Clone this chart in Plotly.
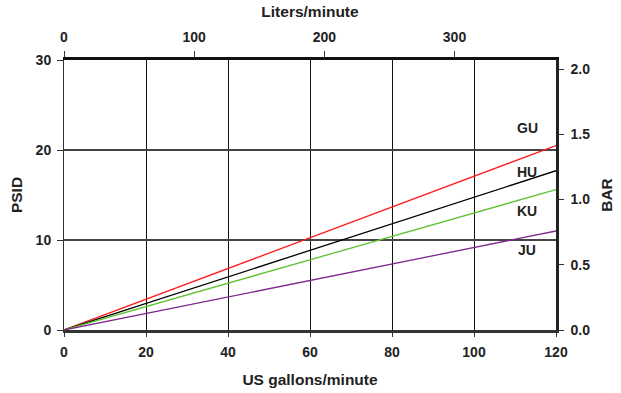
import plotly.graph_objects as go

flow_gpm = [0, 120]
series_names = ["GU", "HU", "KU", "JU"]
series_values = {
    "GU": [0, 20.5],
    "HU": [0, 17.7],
    "KU": [0, 15.6],
    "JU": [0, 11.0],
}
series_colors = {"GU": "#ff1a1a", "HU": "#000000", "KU": "#5cc232", "JU": "#7d2a8c"}
label_y = {"GU": 22.4, "HU": 17.6, "KU": 13.2, "JU": 8.9}

x_ticks = [0, 20, 40, 60, 80, 100, 120]
y_ticks = [0, 10, 20, 30]
liter_ticks = [0, 100, 200, 300]
bar_ticks = [0.0, 0.5, 1.0, 1.5, 2.0]

FONT = "Liberation Sans, Arial, sans-serif"
tf = dict(family=FONT, size=14, color="#222", weight="bold")
ttf = dict(family=FONT, size=15.5, color="#222", weight="bold")

fig = go.Figure()
for n in series_names:
    fig.add_trace(go.Scatter(x=flow_gpm, y=series_values[n], mode="lines",
                             line=dict(color=series_colors[n], width=1.3),
                             showlegend=False, hoverinfo="skip"))
    fig.add_annotation(x=113, y=label_y[n], text=n, showarrow=False,
                       xref="x", yref="y", xanchor="center",
                       font=dict(family=FONT, size=14, color="#222", weight="bold"))

# dummy traces for secondary axes
fig.add_trace(go.Scatter(x=[None], y=[None], xaxis="x2", yaxis="y", showlegend=False))
fig.add_trace(go.Scatter(x=[None], y=[None], xaxis="x", yaxis="y2", showlegend=False))

fig.update_layout(
    width=621, height=393,
    margin=dict(l=64, r=65, t=60, b=63),
    plot_bgcolor="white", paper_bgcolor="white",
    xaxis=dict(range=[0, 120], tickvals=x_ticks, showgrid=True, gridcolor="#111",
               gridwidth=1, showline=True, linecolor="#333", linewidth=2.5,
               ticks="outside", ticklen=4, tickcolor="#333", tickfont=tf,
               ticklabelstandoff=3, zeroline=False, automargin=False,
               title=dict(text="US gallons/minute", font=ttf, standoff=16)),
    xaxis2=dict(range=[0, 378], tickvals=liter_ticks, overlaying="x", side="top",
                showgrid=False, showline=True, linecolor="#111", linewidth=2.5,
                ticks="outside", ticklen=6, tickcolor="#333", tickfont=tf,
                ticklabelstandoff=4, zeroline=False, automargin=False,
                title=dict(text="Liters/minute", font=ttf, standoff=8)),
    yaxis=dict(range=[0, 30], tickvals=y_ticks, showgrid=True, gridcolor="#444",
               gridwidth=2, showline=True, linecolor="#333", linewidth=1,
               ticks="outside", ticklen=6, tickcolor="#333", tickfont=tf,
               ticklabelstandoff=3, zeroline=False, automargin=False,
               title=dict(text="PSID", font=ttf, standoff=9)),
    yaxis2=dict(range=[0, 2.069], tickvals=bar_ticks, tickformat=".1f",
                overlaying="y", side="right", showgrid=False, showline=True,
                linecolor="#222", linewidth=2.5, ticks="outside", ticklen=5,
                tickcolor="#333", tickfont=tf, ticklabelstandoff=4, zeroline=False,
                automargin=False,
                title=dict(text="BAR", font=ttf, standoff=12)),
)

fig.write_html("out.html")
